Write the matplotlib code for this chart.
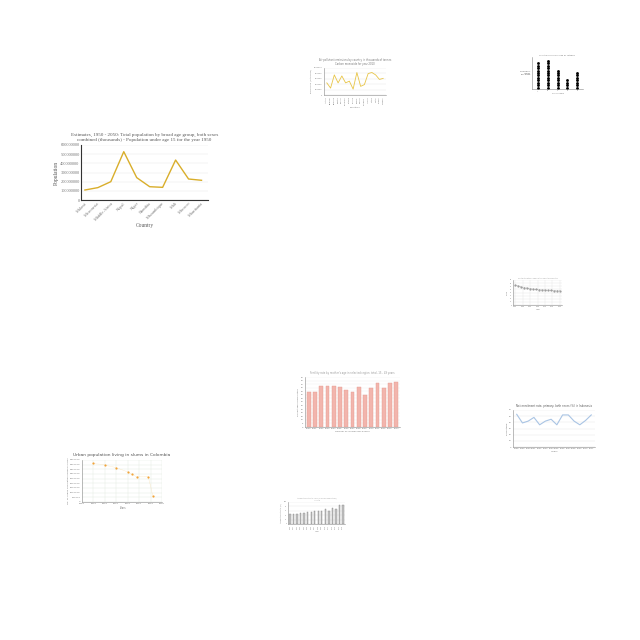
import matplotlib
matplotlib.use('Agg')
import matplotlib.pyplot as plt
import numpy as np

# chart 1: population under 15, 1950
pop_countries = ['Malawi', 'Micronesia', 'Middle Africa', 'Nepal', 'Niger',
                 'Namibia', 'Mozambique', 'Mali', 'Morocco', 'Mauritania']
pop_values = [109e6, 135e6, 200e6, 527e6, 244e6, 145e6, 138e6, 436e6, 229e6, 215e6]

# chart 2: emissions by country
emis_countries = ['Austria', 'Belgium', 'Bulgaria', 'Croatia', 'Cyprus', 'Denmark',
                  'Estonia', 'Finland', 'France', 'Greece', 'Hungary', 'Ireland',
                  'Latvia', 'Malta', 'Poland', 'Sweden']
emis_values = [449e3, 256e3, 744e3, 449e3, 705e3, 449e3, 513e3, 218e3,
               833e3, 320e3, 385e3, 795e3, 833e3, 744e3, 577e3, 615e3]

# chart 3: dot chart counts
dot_groups = ['A', 'B', 'C', 'D', 'E']
dot_counts = [11, 12, 8, 4, 7]

# chart 4: declining series
dec_years = [1990, 1992, 1994, 1996, 1998, 2000, 2002, 2004, 2006, 2008, 2010,
             2012, 2014, 2016, 2018, 2020]
dec_values = [64, 61, 58, 56, 54, 52, 51, 50, 49, 48, 48, 47, 47, 46, 46, 46]

# chart 5: pink bars
pink_labels = ['2000', '2001', '2002', '2003', '2004', '2005', '2006', '2007',
               '2008', '2009', '2010', '2011', '2012', '2013', '2014']
pink_values = [49, 49, 58, 58, 58, 56, 52, 49, 56, 45, 55, 62, 55, 61, 63]

# chart 6: blue line
blue_years = ['1998', '1999', '2000', '2001', '2002', '2003', '2004', '2005',
              '2006', '2007', '2008', '2009', '2010', '2011']
blue_values = [53, 39, 42, 48, 36, 42, 45, 36, 52, 52, 42, 36, 43, 52]

# chart 7: urban population in slums, Colombia
slum_years = [1990, 1995, 2000, 2005, 2007, 2009, 2014, 2016]
slum_values = [4.14e6, 3.96e6, 3.67e6, 3.24e6, 2.95e6, 2.7e6, 2.7e6, 0.65e6]

# chart 8: gray bars
gray_labels = [str(y) for y in range(2000, 2016)]
gray_values = [44, 44, 46, 48, 51, 54, 54, 59, 60, 60, 66, 59, 74, 68, 85, 88]

fig = plt.figure(figsize=(6.4, 6.4), dpi=100)
fig.patch.set_facecolor('white')


def px_axes(x0, y0, x1, y1):
    return fig.add_axes([x0 / 640, 1 - y1 / 640, (x1 - x0) / 640, (y1 - y0) / 640])


def tidy(ax, fs, grid_axis='y', gcol='#e3e3e3'):
    for s in ['top', 'right']:
        ax.spines[s].set_visible(False)
    for s in ['left', 'bottom']:
        ax.spines[s].set_color('#888888')
        ax.spines[s].set_linewidth(0.4)
    ax.tick_params(length=0, labelsize=fs, colors='#777777', pad=1)
    if grid_axis:
        ax.grid(axis=grid_axis, color=gcol, linewidth=0.3)
    ax.set_axisbelow(True)


# ---- chart 1
serif = ['Liberation Serif', 'DejaVu Serif']
ax = px_axes(81, 145, 208, 200)
x = np.arange(len(pop_countries))
ax.plot(x, pop_values, color='#D9AE2B', linewidth=1.0)
ax.set_ylim(0, 600e6)
ax.set_yticks(np.arange(0, 600e6 + 1, 100e6))
ax.set_yticklabels([f'{int(v)}' for v in np.arange(0, 600e6 + 1, 100e6)], family=serif)
ax.set_xticks(x)
ax.set_xticklabels(pop_countries, rotation=45, ha='right', rotation_mode='anchor', family=serif)
ax.set_xlim(-0.3, len(x) - 0.5)
tidy(ax, 3.2)
ax.spines['left'].set_color('#333333')
ax.spines['bottom'].set_color('#333333')
ax.spines['left'].set_linewidth(0.8)
ax.spines['bottom'].set_linewidth(0.8)
ax.set_ylabel('Population', fontsize=4, family=serif, color='#555555', labelpad=1)
ax.set_xlabel('Country', fontsize=4, family=serif, color='#555555', labelpad=1)
ax.set_title('Estimates, 1950 - 2050: Total population by broad age group, both sexes\n'
             'combined (thousands) - Population under age 15 for the year 1950',
             fontsize=3.6, family=serif, color='#555555', pad=3)

# ---- chart 2
ax = px_axes(324, 68, 386, 95)
x = np.arange(len(emis_countries))
ax.plot(x, emis_values, color='#E8C547', linewidth=0.6)
ax.set_ylim(0, 1000e3)
ax.set_yticks(np.arange(0, 1000e3 + 1, 200e3))
ax.set_yticklabels([f'{int(v)}' for v in np.arange(0, 1000e3 + 1, 200e3)])
ax.set_xticks(x)
ax.set_xticklabels(emis_countries, rotation=90)
tidy(ax, 1.4)
ax.set_ylabel('Emissions (in tonnes)', fontsize=1.6, color='#777777', labelpad=1)
ax.set_xlabel('Countries', fontsize=1.6, color='#777777', labelpad=1)
ax.set_title('Air pollutant emissions by country in thousands of tonnes\nCarbon monoxide for year 2010',
             fontsize=1.8, color='#777777', pad=2)

# ---- chart 3
ax = px_axes(532, 57, 583, 89)
for i, c in enumerate(dot_counts):
    ax.scatter([i] * c, np.arange(c) + 0.5, s=4.2, color='black', linewidths=0)
ax.set_xlim(-0.6, len(dot_groups) - 0.4)
ax.set_ylim(0, 13)
ax.set_xticks(range(len(dot_groups)))
ax.set_xticklabels(dot_groups)
ax.set_yticks([])
tidy(ax, 1.2, grid_axis=None)
ax.set_ylabel('Number of\nrecords\nper group', fontsize=1.4, color='#555555', rotation=0,
              ha='right', va='center', labelpad=1)
ax.set_xlabel('Group name', fontsize=1.4, color='#777777', labelpad=1)
ax.set_title('Count of records grouped by category', fontsize=1.4, color='#777777', pad=1)

# ---- chart 4
ax = px_axes(513, 280, 562, 305)
ax.plot(dec_years, dec_values, color='#999999', linewidth=0.3, linestyle='--',
        marker='o', markersize=0.6)
ax.set_ylim(0, 80)
ax.set_yticks(range(0, 81, 10))
ax.set_xticks(range(1990, 2021, 5))
tidy(ax, 1.2, grid_axis='both')
ax.set_ylabel('Value', fontsize=1.3, color='#777777', labelpad=1)
ax.set_xlabel('Year', fontsize=1.3, color='#777777', labelpad=1)
ax.set_title('Mortality rate by year in the selected country', fontsize=1.3, color='#999999', pad=1)

# ---- chart 5
ax = px_axes(305, 377, 400, 427)
x = np.arange(len(pink_labels))
ax.bar(x, pink_values, width=0.6, color='#F2B5AD', edgecolor='#E59A90', linewidth=0.3)
ax.set_ylim(0, 70)
ax.set_yticks(range(0, 71, 5))
ax.set_xticks(x)
ax.set_xticklabels(pink_labels)
ax.set_xlim(-0.6, len(x) - 0.4)
tidy(ax, 1.5, gcol='#eeeeee')
ax.set_ylabel('Percentage of population', fontsize=1.6, color='#777777', labelpad=1)
ax.set_xlabel('Number of children per woman', fontsize=1.6, color='#777777', labelpad=1)
ax.set_title('Fertility rate by mother\'s age in selected region, total, 15 - 49 years',
             fontsize=1.8, color='#999999', pad=2)

# ---- chart 6
ax = px_axes(513, 410, 595, 447)
x = np.arange(len(blue_years))
ax.plot(x, blue_values, color='#A9C4E4', linewidth=0.8)
ax.set_ylim(0, 60)
ax.set_yticks(range(0, 61, 10))
ax.set_xticks(x)
ax.set_xticklabels(blue_years)
tidy(ax, 1.5)
ax.set_ylabel('Percentage', fontsize=1.7, color='#777777', labelpad=1)
ax.set_xlabel('Years', fontsize=1.7, color='#777777', labelpad=1)
ax.set_title('Net enrolment rate, primary, both sexes (%) in Indonesia', fontsize=1.9,
             color='#555555', pad=2)

# ---- chart 7
ax = px_axes(82, 460, 162, 502)
ax.plot(slum_years, slum_values, color='#F7C873', linewidth=0.3, linestyle=':')
ax.scatter(slum_years, slum_values, s=2.5, color='#F2A43A', linewidths=0, zorder=3)
ax.set_xlim(1985, 2020)
ax.set_ylim(0, 4.5e6)
ax.set_xticks(range(1985, 2021, 5))
ax.set_yticks(np.arange(0, 4.5e6 + 1, 500e3))
ax.set_yticklabels([f'{int(v)}' for v in np.arange(0, 4.5e6 + 1, 500e3)])
tidy(ax, 1.7, grid_axis='both', gcol='#e2eadf')
ax.set_ylabel('No. of Urban population living in slums', fontsize=1.7, color='#777777', labelpad=1)
ax.set_xlabel('Years', fontsize=1.8, color='#777777', labelpad=1)
ax.set_title('Urban population living in slums in Colombia', fontsize=3.2, color='#555555', pad=3)

# ---- chart 8
ax = px_axes(288, 502, 345, 524)
x = np.arange(len(gray_labels))
ax.bar(x, gray_values, width=0.4, color='#C4C4C4', edgecolor='#888888', linewidth=0.3)
ax.set_ylim(0, 100)
ax.set_yticks(range(0, 101, 20))
ax.set_xticks(x)
ax.set_xticklabels(gray_labels, rotation=90)
ax.set_xlim(-0.6, len(x) - 0.4)
tidy(ax, 1.1)
ax.set_ylabel('Access to electricity (%)', fontsize=1.2, color='#777777', labelpad=1)
ax.set_xlabel('Year', fontsize=1.2, color='#777777', labelpad=1)
ax.set_title('Access to electricity, rural (% of rural population)\nin India',
             fontsize=1.2, color='#999999', pad=1)

fig.savefig('out.png', dpi=100, facecolor='white')
